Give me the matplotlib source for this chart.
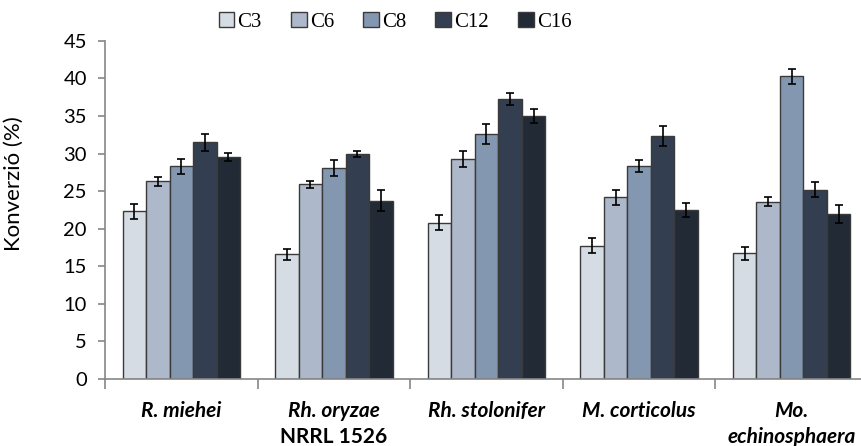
import matplotlib
matplotlib.use("Agg")
import matplotlib.pyplot as plt
import matplotlib.transforms as mtransforms
import numpy as np

categories = ["R. miehei", "Rh. oryzae", "Rh. stolonifer", "M. corticolus", "Mo."]
categories_line2 = ["", "NRRL 1526", "", "", "echinosphaera"]
line2_italic = [False, False, False, False, True]
series = ["C3", "C6", "C8", "C12", "C16"]
values = {
    "C3":  [22.3, 16.6, 20.8, 17.7, 16.7],
    "C6":  [26.3, 25.9, 29.3, 24.2, 23.6],
    "C8":  [28.3, 28.1, 32.6, 28.3, 40.3],
    "C12": [31.5, 29.9, 37.3, 32.3, 25.2],
    "C16": [29.5, 23.7, 35.0, 22.5, 21.9],
}
errors = {
    "C3":  [1.0, 0.7, 1.0, 1.0, 0.9],
    "C6":  [0.6, 0.5, 1.1, 1.0, 0.6],
    "C8":  [1.0, 1.1, 1.3, 0.8, 1.0],
    "C12": [1.1, 0.4, 0.8, 1.3, 1.0],
    "C16": [0.55, 1.4, 0.9, 0.9, 1.2],
}
colors = ["#d6dce4", "#adb9ca", "#8497b0", "#333f50", "#222a35"]
yticks = list(range(0, 50, 5))

fig = plt.figure(figsize=(8.62, 4.46), dpi=100)
ax_h = 379 - 40.8
ax = fig.add_axes([105/862, (446-379)/446, (868-105)/862, ax_h/446])

x = np.arange(len(categories))
bw = 0.154
for i, s in enumerate(series):
    off = (i - 2) * bw
    ax.bar(x + off, values[s], bw, color=colors[i], edgecolor="#3a3a3a", linewidth=1.0,
           label=s, zorder=2)
    ax.errorbar(x + off, values[s], yerr=errors[s], fmt="none", ecolor="black",
                elinewidth=1.2, capsize=3, capthick=1.2, zorder=3)

ax.set_xlim(-0.5, len(categories) - 0.5)
ax.set_ylim(0, 45)
ax.set_yticks(yticks)
ax.set_yticklabels([str(t) for t in yticks], fontfamily="Lato", fontsize=14.5)
ax.set_xticks(x)
ax.set_xticklabels([""] * len(categories))
ax.set_xticks(np.arange(-0.5, len(categories), 1.0), minor=True)
ax.tick_params(axis="x", which="major", length=0)
ax.tick_params(axis="x", which="minor", length=7, color="#868686", width=1.2)
ax.tick_params(axis="y", length=5, color="#868686", width=1.2, pad=8)
for sp in ["top", "right"]:
    ax.spines[sp].set_visible(False)
for sp in ["left", "bottom"]:
    ax.spines[sp].set_color("#868686")
    ax.spines[sp].set_linewidth(1.2)

trans = mtransforms.blended_transform_factory(ax.transData, ax.transAxes)
y1 = -(411 - 379) / ax_h
y2 = -(437 - 379) / ax_h
for xi, (l1, l2, it2) in enumerate(zip(categories, categories_line2, line2_italic)):
    ax.text(xi, y1, l1, transform=trans, ha="center", va="center", fontfamily="Lato",
            fontweight="bold", fontstyle="italic", fontsize=15)
    if l2:
        ax.text(xi, y2, l2, transform=trans, ha="center", va="center", fontfamily="Lato",
                fontweight="bold", fontstyle="italic" if it2 else "normal", fontsize=15)

ax.set_ylabel("Konverzió (%)", fontfamily="Lato", fontsize=16)
ax.yaxis.set_label_coords((24 - 105) / 763, (379 - 184) / ax_h)

leg = fig.legend(loc="center", bbox_to_anchor=(395/862, 1 - 22/446), ncol=5, frameon=False,
                 prop={"family": "Liberation Serif", "size": 15}, handlelength=0.75,
                 handleheight=0.75, handletextpad=0.15, columnspacing=1.4)
for h in leg.legend_handles:
    h.set_edgecolor("#3a3a3a")

fig.savefig("out.png", dpi=100)
